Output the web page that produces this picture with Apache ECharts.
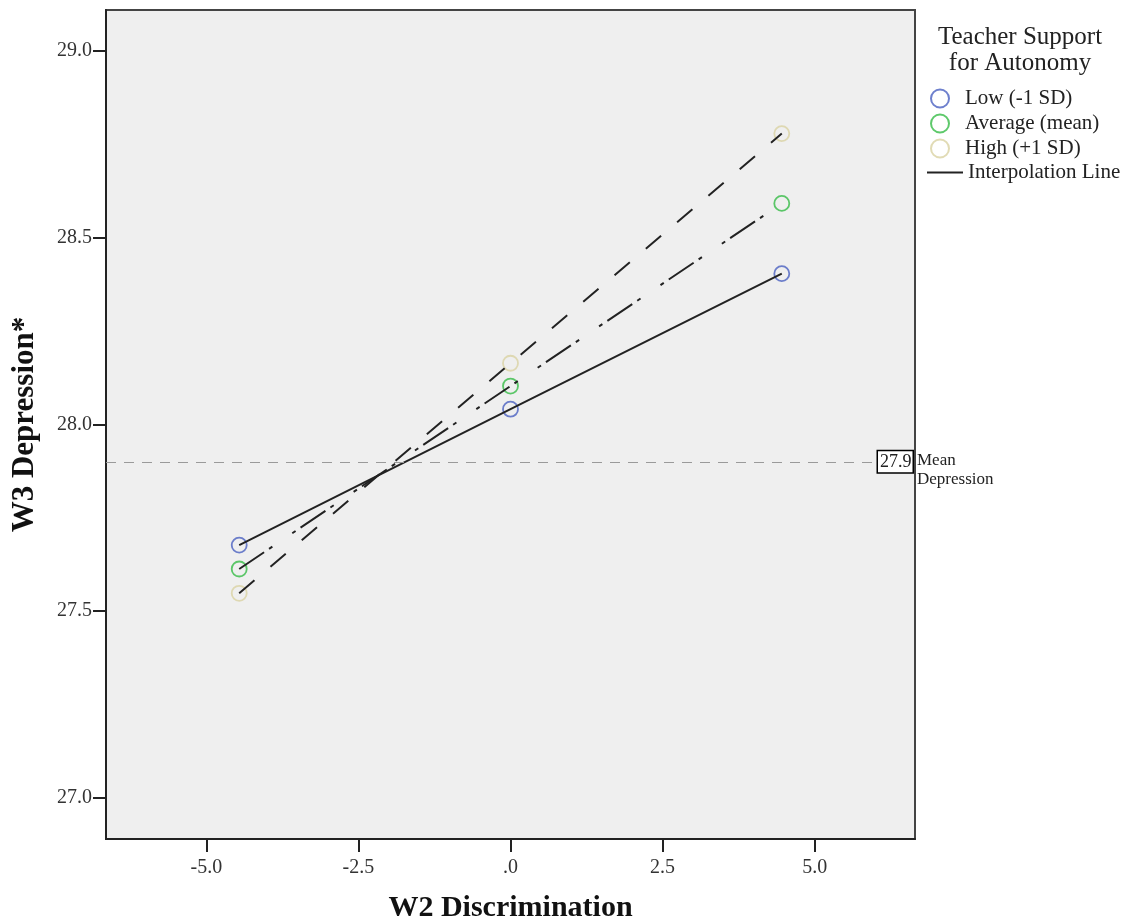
<!DOCTYPE html>
<html>
<head>
<meta charset="utf-8">
<script src="https://cdn.jsdelivr.net/npm/echarts@6/dist/echarts.min.js"></script>
<style>
  html, body { margin: 0; padding: 0; background: #fff; }
  #chart { width: 1126px; height: 924px; }
</style>
</head>
<body>
<div id="chart"></div>
<script>
// Predicted W3 depression at three levels of W2 discrimination,
// one line per level of teacher support for autonomy.
const discrimination = [-4.46, 0, 4.46];
const lowSupport = [27.677, 28.041, 28.404];
const averageSupport = [27.613, 28.103, 28.592];
const highSupport = [27.548, 28.164, 28.779];
const meanDepression = 27.9;

const groupNames = ['Low (-1 SD)', 'Average (mean)', 'High (+1 SD)'];
const xTicks = [-5, -2.5, 0, 2.5, 5];
const yTicks = [27, 27.5, 28, 28.5, 29];

const FONT = 'Liberation Serif';
const INK = '#222';

function pairs(xs, ys) {
  return xs.map((x, i) => [x, ys[i]]);
}
function tickText(v) {
  return v === 0 ? '.0' : v.toFixed(1);
}

const groups = [
  { name: groupNames[0], values: lowSupport, color: '#4a60c0', dash: 'solid' },
  { name: groupNames[1], values: averageSupport, color: '#36bb46', dash: [30, 6, 4, 24, 4, 6] },
  { name: groupNames[2], values: highSupport, color: '#d9d2a2', dash: [20, 21] }
];

const series = [];
groups.forEach(g => {
  series.push({
    name: 'Interpolation Line',
    type: 'line',
    data: pairs(discrimination, g.values),
    symbol: 'none',
    showSymbol: false,
    z: 3,
    silent: true,
    lineStyle: { color: INK, width: 2, type: g.dash },
    itemStyle: { color: INK }
  });
});
groups.forEach((g, i) => {
  const s = {
    name: g.name,
    type: 'scatter',
    data: pairs(discrimination, g.values),
    symbol: 'circle',
    symbolSize: 15,
    z: 2,
    itemStyle: { color: 'rgba(0,0,0,0)', borderColor: g.color, borderWidth: 1.8 }
  };
  if (i === 0) {
    s.markLine = {
      silent: true,
      symbol: 'none',
      animation: false,
      data: [
        {
          yAxis: meanDepression,
          lineStyle: { color: '#9a9a9a', width: 1.2, type: [10, 8] },
          label: {
            show: true,
            position: 'end',
            distance: 2,
            formatter: '{t|Mean}\n{d|Depression}',
            fontFamily: FONT,
            fontSize: 17,
            color: INK,
            rich: {
              t: { fontFamily: FONT, fontSize: 17, color: INK, lineHeight: 36, verticalAlign: 'bottom' },
              d: { fontFamily: FONT, fontSize: 17, color: INK, lineHeight: 21 }
            }
          }
        },
        {
          yAxis: meanDepression,
          lineStyle: { color: 'rgba(0,0,0,0)', width: 0 },
          label: {
            show: true,
            position: 'end',
            distance: -37,
            formatter: String(meanDepression),
            fontFamily: FONT,
            fontSize: 18,
            color: INK,
            backgroundColor: '#fff',
            borderColor: '#000',
            borderWidth: 1.5,
            padding: [3, 1, 0, 2]
          }
        }
      ]
    };
  }
  series.push(s);
});

const chart = echarts.init(document.getElementById('chart'), null, { renderer: 'canvas' });
chart.setOption({
  animation: false,
  backgroundColor: '#fff',
  title: {
    text: 'Teacher Support\nfor Autonomy',
    left: 1020,
    top: 24,
    padding: 0,
    textAlign: 'center',
    textStyle: { fontFamily: FONT, fontSize: 25, fontWeight: 'normal', lineHeight: 26, color: INK }
  },
  legend: [
    {
      data: groupNames,
      orient: 'vertical',
      left: 925,
      top: 83,
      icon: 'circle',
      itemWidth: 40,
      itemHeight: 18,
      itemGap: 4,
      selectedMode: false,
      textStyle: { fontFamily: FONT, fontSize: 21, lineHeight: 20, color: INK }
    },
    {
      data: [{ name: 'Interpolation Line', icon: 'path://M0,0 L36,0 L36,2 L0,2 Z', itemStyle: { color: INK } }],
      orient: 'vertical',
      left: 922,
      top: 157,
      itemWidth: 36,
      itemHeight: 2,
      selectedMode: false,
      textStyle: { fontFamily: FONT, fontSize: 21, lineHeight: 20, color: INK }
    }
  ],
  grid: {
    left: 106,
    right: 211,
    top: 10,
    bottom: 85,
    outerBoundsMode: 'none',
    containLabel: false,
    show: true,
    backgroundColor: '#efefef',
    borderColor: '#444',
    borderWidth: 2
  },
  xAxis: {
    type: 'value',
    min: -6.65,
    max: 6.65,
    name: 'W2 Discrimination',
    nameLocation: 'middle',
    nameGap: 54,
    nameTextStyle: { fontFamily: FONT, fontSize: 30, fontWeight: 'bold', color: '#111' },
    splitLine: { show: false },
    axisLine: { show: true, onZero: false, lineStyle: { color: INK, width: 2 } },
    axisTick: { show: true, length: 13, lineStyle: { color: INK, width: 2 }, customValues: xTicks },
    axisLabel: {
      customValues: xTicks,
      formatter: tickText,
      margin: 19,
      fontFamily: FONT,
      fontSize: 20,
      color: '#333'
    }
  },
  yAxis: {
    type: 'value',
    min: 26.89,
    max: 29.11,
    name: 'W3 Depression*',
    nameLocation: 'middle',
    nameGap: 66,
    nameTextStyle: { fontFamily: FONT, fontSize: 31, fontWeight: 'bold', color: '#111' },
    splitLine: { show: false },
    axisLine: { show: true, onZero: false, lineStyle: { color: INK, width: 2 } },
    axisTick: { show: true, length: 13, lineStyle: { color: INK, width: 2 }, customValues: yTicks },
    axisLabel: {
      customValues: yTicks,
      formatter: tickText,
      margin: 14,
      fontFamily: FONT,
      fontSize: 20,
      color: '#333'
    }
  },
  series: series
});
</script>
</body>
</html>
